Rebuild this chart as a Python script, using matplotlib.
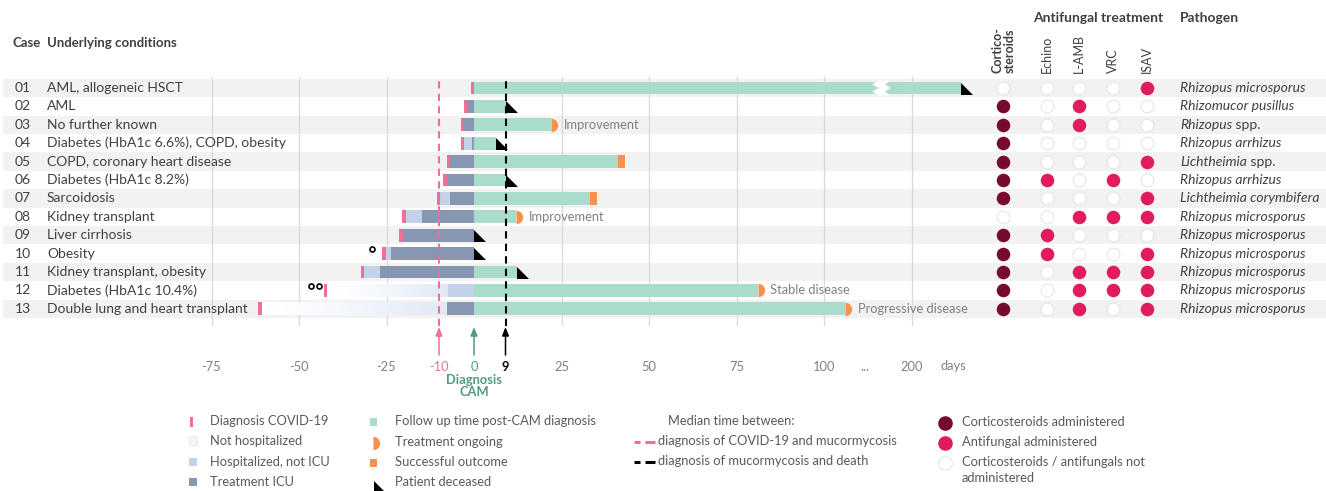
import numpy as np
import matplotlib
matplotlib.use("Agg")
import matplotlib.pyplot as plt
from matplotlib.transforms import blended_transform_factory, offset_copy
from matplotlib.path import Path
from matplotlib.patches import Rectangle, Polygon
from matplotlib.markers import MarkerStyle
from matplotlib.colors import to_rgb

plt.rcParams['font.family'] = ['Lato', 'DejaVu Sans']

# ---------------------------------------------------------------- data
cases = ['01', '02', '03', '04', '05', '06', '07', '08', '09', '10', '11', '12', '13']
conditions = ['AML, allogeneic HSCT', 'AML', 'No further known',
              'Diabetes (HbA1c 6.6%), COPD, obesity', 'COPD, coronary heart disease',
              'Diabetes (HbA1c 8.2%)', 'Sarcoidosis', 'Kidney transplant',
              'Liver cirrhosis', 'Obesity', 'Kidney transplant, obesity',
              'Diabetes (HbA1c 10.4%)', 'Double lung and heart transplant']
# days relative to CAM diagnosis (day 0)
covid_day = [-1.0, -2.9, -3.8, -3.8, -7.8, -8.8, -10.7, -20.5, -21.4, -26.2, -32.3, -43.0, -61.6]
not_hosp = [0, 0, 0, 0, 0, 0, 0, 0, 0, 0, 0, 1, 1]
ward_start = [np.nan, np.nan, np.nan, -2.8, np.nan, np.nan, -9.7, -19.5, np.nan, -25.2, -31.3, -7.3, np.nan]
icu_start = [np.nan, -1.9, -2.8, -0.7, -6.8, -7.8, -6.9, -14.8, -20.4, -23.8, -26.9, np.nan, -7.8]
followup_end = [214, 9, 22, 6.3, 41, 9, 33, 12, 0, 0, 12.2, 81, 106]
outcome = ['deceased', 'deceased', 'ongoing', 'deceased', 'success', 'deceased', 'success',
           'ongoing', 'deceased', 'deceased', 'deceased', 'ongoing', 'ongoing']
outcome_note = ['', '', 'Improvement', '', '', '', '', 'Improvement', '', '', '',
                'Stable disease', 'Progressive disease']
footnote_marks = [0, 0, 0, 0, 0, 0, 0, 0, 0, 1, 0, 2, 0]
median_covid_to_cam = -10
median_cam_to_death = 9

pathogen_genus = ['Rhizopus', 'Rhizomucor', 'Rhizopus', 'Rhizopus', 'Lichtheimia', 'Rhizopus',
                  'Lichtheimia', 'Rhizopus', 'Rhizopus', 'Rhizopus', 'Rhizopus', 'Rhizopus', 'Rhizopus']
pathogen_species = ['microsporus', 'pusillus', 'spp.', 'arrhizus', 'spp.', 'arrhizus', 'corymbifera',
                    'microsporus', 'microsporus', 'microsporus', 'microsporus', 'microsporus', 'microsporus']

treatment_names = ['Echino', 'L-AMB', 'VRC', 'ISAV']
corticosteroids = [0, 1, 1, 1, 1, 1, 1, 0, 1, 1, 1, 1, 1]
echino = [0, 0, 0, 0, 0, 1, 0, 0, 1, 1, 0, 0, 0]
l_amb = [0, 1, 1, 0, 0, 0, 0, 1, 0, 0, 1, 1, 1]
vrc = [0, 0, 0, 0, 0, 1, 0, 1, 0, 0, 1, 1, 0]
isav = [1, 0, 0, 0, 1, 0, 1, 1, 0, 1, 1, 1, 1]

grid_days = [-75, -50, -25, 25, 50, 75, 100, 200]
tick_days = [-75, -50, -25, -10, 0, 9, 25, 50, 75, 100, 150, 200]
tick_labels = ['-75', '-50', '-25', '-10', '0', '9', '25', '50', '75', '100', '...', '200']

# ---------------------------------------------------------------- style
PINK = '#f06f96'
GREEN = '#a9dccc'
ICU = '#8797b1'
WARD = '#c4d2e9'
HOME = '#dfe8f5'
ORANGE = '#f7914b'
CORT = '#760b2c'
AF = '#e01c5e'
EMPTY_EDGE = '#e2e2e2'
BAND = '#f2f2f2'
GRID = '#d9d9d9'
TXT = '#404040'
LTXT = '#595959'
TICK = '#808080'
CAMGREEN = '#4f9a82'

W, H = 1326, 491
fig = plt.figure(figsize=(W / 100, H / 100), dpi=100)
fig.patch.set_facecolor('white')


def fx(px):
    return px / W


def fy(py):
    return 1 - py / H


# broken time axis: the stretch between 111 and 187.5 days is squeezed
def fwd(d):
    d = np.asarray(d, float)
    return np.where(d <= 111, d, np.where(d >= 187.5, d - 75, 111 + (d - 111) * 1.5 / 76.5))


def inv(p):
    p = np.asarray(p, float)
    return np.where(p <= 111, p, np.where(p >= 112.5, p + 75, 111 + (p - 111) * 76.5 / 1.5))


ROW0, ROWH = 88, 18.4       # pixel centre of first row, row pitch
AX_TOP, AX_BOT = 77, 326
ZERO_PX, PX_PER_DAY = 474, 3.5

ax = fig.add_axes([fx(3), fy(AX_BOT), fx(W - 3), (AX_BOT - AX_TOP) / H])
ax.set_facecolor('none')
ax.set_xscale('function', functions=(fwd, inv))
ax.set_xlim((3 - ZERO_PX) / PX_PER_DAY, float(inv((W - ZERO_PX) / PX_PER_DAY)))
ax.set_ylim((AX_BOT - ROW0) / ROWH, (AX_TOP - ROW0) / ROWH)
for s in ax.spines.values():
    s.set_visible(False)

n = len(cases)
rows = np.arange(n)
BH = 0.70

for i in rows:
    if i % 2 == 0:
        ax.axhspan(i - 0.5, i + 0.5, color=BAND, lw=0, zorder=0)
for g in grid_days:
    ax.axvline(g, color=GRID, lw=0.9, zorder=0.5)

tri_path = Path([(0, 0.5), (0, -0.5), (0.95, -0.5), (0, 0.5)],
                [Path.MOVETO, Path.LINETO, Path.LINETO, Path.CLOSEPOLY])
foot_offsets = {1: [-10], 2: [-13, -5]}

for i in rows:
    c = covid_day[i]
    start = c + 1
    # phase boundaries before CAM diagnosis
    phases = []
    if not_hosp[i]:
        phases.append(('home', start))
    if not np.isnan(ward_start[i]):
        phases.append(('ward', ward_start[i]))
    if not np.isnan(icu_start[i]):
        phases.append(('icu', icu_start[i]))
    for k, (kind, s0) in enumerate(phases):
        s1 = phases[k + 1][1] if k + 1 < len(phases) else 0
        if kind == 'home':
            nseg = 40
            edges = np.linspace(s0, s1, nseg + 1)
            c0, c1 = np.array(to_rgb('#ffffff')), np.array(to_rgb(HOME))
            for j in range(nseg):
                t = (j + 0.5) / nseg
                ax.barh(i, edges[j + 1] - edges[j], left=edges[j], height=BH,
                        color=c0 + (c1 - c0) * t ** 1.3, lw=0, zorder=2)
        else:
            ax.barh(i, s1 - s0, left=s0, height=BH, color=WARD if kind == 'ward' else ICU,
                    lw=0, zorder=2)
    ax.barh(i, 1.0, left=c, height=BH, color=PINK, lw=0, zorder=3)
    for dx in foot_offsets.get(footnote_marks[i], []):
        ax.plot([c], [i], marker='o', ms=3.6, mfc='white', mec='black', mew=1.2, zorder=5,
                transform=offset_copy(ax.transData, fig=fig, x=dx, y=4.5, units='dots'))

    fe = followup_end[i]
    if fe > 0:
        ax.barh(i, fe, left=0, height=BH, color=GREEN, lw=0, zorder=2)
    if outcome[i] == 'success':
        ax.barh(i, 2, left=fe, height=BH, color=ORANGE, lw=0, zorder=3)
    elif outcome[i] == 'ongoing':
        ax.plot([fe], [i], marker=MarkerStyle('o', fillstyle='right'), ms=9.6,
                color=ORANGE, markerfacecoloralt='none', mew=0, zorder=4)
    else:
        ax.plot([fe], [i + 0.04], marker=tri_path, ms=17.5, color='black', mew=0, zorder=5)
    if outcome_note[i]:
        ax.annotate(outcome_note[i], xy=(fe, i), xytext=(9, 0), textcoords='offset points',
                    ha='left', va='center', fontsize=9.3, color=TICK)

# axis break on the long follow-up bar
yb = 0
zz = [0.35, 0.175, 0, -0.175, -0.35]
xl = [190.5, 188.8, 190.5, 188.8, 190.5]
left_edge = [(x, yb + y * 1.15) for x, y in zip(xl, zz)]
right_edge = [(x + 3.6, yb + y * 1.15) for x, y in zip(xl, zz)][::-1]
ax.add_patch(Polygon(left_edge + right_edge, closed=True, facecolor='white', edgecolor='none', zorder=4))

# median lines
ax.axvline(median_covid_to_cam, color=PINK, lw=1.5, ls=(0, (3.5, 2.5)), zorder=6)
ax.axvline(median_cam_to_death, color='black', lw=1.5, ls=(0, (3.5, 2.5)), zorder=6)


def py2row(py):
    return (py - ROW0) / ROWH


for xd, col in [(median_covid_to_cam, PINK), (0, CAMGREEN), (median_cam_to_death, 'black')]:
    ax.annotate('', xy=(xd, py2row(327)), xytext=(xd, py2row(355)),
                arrowprops=dict(arrowstyle='-|>,head_length=0.5,head_width=0.2', color=col, lw=1.1,
                                shrinkA=0, shrinkB=0),
                annotation_clip=False)

ax.set_xticks(tick_days)
ax.set_xticklabels(tick_labels)
ax.tick_params(axis='x', length=0, pad=25, labelsize=9.3, labelcolor=TICK)
ax.set_yticks([])
for lab, d in zip(ax.get_xticklabels(), tick_days):
    if d == median_covid_to_cam:
        lab.set_color(PINK)
    elif d == 0:
        lab.set_color(CAMGREEN)
    elif d == median_cam_to_death:
        lab.set_color('black')
        lab.set_fontweight('bold')
ax.text(0, py2row(374), 'Diagnosis\nCAM', ha='center', va='top', fontsize=9.3,
        fontweight='bold', color=CAMGREEN, linespacing=1.0, clip_on=False)
fig.text(fx(953), fy(366), 'days', ha='center', va='center', fontsize=9.3, color=TICK)

# row labels
tr = blended_transform_factory(fig.transFigure, ax.transData)
for i in rows:
    ax.text(fx(15), i, cases[i], transform=tr, ha='left', va='center', fontsize=10, color=TXT)
    ax.text(fx(47), i, conditions[i], transform=tr, ha='left', va='center', fontsize=10, color=TXT)
    if pathogen_species[i] == 'spp.':
        t1 = ax.text(fx(1180), i, pathogen_genus[i], transform=tr, ha='left', va='center',
                     fontsize=10, color=TXT, style='italic')
        ax.annotate(' spp.', xy=(1, 0), xycoords=t1, ha='left', va='bottom', fontsize=10, color=TXT)
    else:
        ax.text(fx(1180), i, pathogen_genus[i] + ' ' + pathogen_species[i], transform=tr,
                ha='left', va='center', fontsize=10, color=TXT, style='italic', clip_on=False)

fig.text(fx(12), fy(43), 'Case', fontsize=9.5, fontweight='bold', color=TXT, va='center')
fig.text(fx(47), fy(43), 'Underlying conditions', fontsize=9.5, fontweight='bold', color=TXT, va='center')
fig.text(fx(1033), fy(18), 'Antifungal treatment', fontsize=10, fontweight='bold', color=TXT, va='center')
fig.text(fx(1180), fy(18), 'Pathogen', fontsize=10, fontweight='bold', color=TXT, va='center')

# treatment dot matrix
col_x = [0, 1.28, 2.23, 3.24, 4.25]
dax = fig.add_axes([fx(985), fy(AX_BOT), fx(180), (AX_BOT - AX_TOP) / H])
dax.set_facecolor('none')
dax.set_xlim(-0.54, 4.77)
dax.set_ylim(ax.get_ylim())
dax.axis('off')
matrix = [corticosteroids, echino, l_amb, vrc, isav]
for k, vals in enumerate(matrix):
    vals = np.array(vals)
    filled = vals == 1
    fc = CORT if k == 0 else AF
    dax.scatter(np.full(filled.sum(), col_x[k]), rows[filled], s=95, color=fc, lw=0, zorder=3)
    dax.scatter(np.full((~filled).sum(), col_x[k]), rows[~filled], s=85, facecolor='white',
                edgecolor=EMPTY_EDGE, lw=0.7, zorder=3)
dax.text(col_x[0], py2row(73), 'Cortico-\nsteroids', rotation=90, ha='center', va='bottom',
         fontsize=9, fontweight='bold', color=TXT, linespacing=1.0, multialignment='left')
for k, name in enumerate(treatment_names):
    dax.text(col_x[k + 1], py2row(73), name, rotation=90, ha='center', va='bottom',
             fontsize=9, color=TXT)

# legend
lax = fig.add_axes([0, 0, 1, 1], zorder=-1)
lax.set_xlim(0, W)
lax.set_ylim(H, 0)
lax.axis('off')
LFS = 9.3


def ltext(x, y, s):
    lax.text(x, y, s, ha='left', va='center', fontsize=LFS, color=LTXT)


lax.add_patch(Rectangle((190, 417), 2.6, 10, color=PINK, lw=0))
ltext(210, 421, 'Diagnosis COVID-19')
lax.add_patch(Rectangle((188.5, 436), 8, 9, facecolor='#f1f4fa', edgecolor='#e6eaf2', lw=0.6))
ltext(210, 441, 'Not hospitalized')
lax.add_patch(Rectangle((188.5, 458), 8, 8, color=WARD, lw=0))
ltext(210, 462, 'Hospitalized, not ICU')
lax.add_patch(Rectangle((188.5, 478), 8, 8, color=ICU, lw=0))
ltext(210, 482, 'Treatment ICU')

lax.add_patch(Rectangle((370, 418), 7, 8, color=GREEN, lw=0))
ltext(395, 421, 'Follow up time post-CAM diagnosis')
lax.plot([373], [443], marker=MarkerStyle('o', fillstyle='right'), ms=9.5, color=ORANGE,
         markerfacecoloralt='none', mew=0)
ltext(395, 442, 'Treatment ongoing')
lax.add_patch(Rectangle((370, 459), 7, 8, color=ORANGE, lw=0))
ltext(395, 462, 'Successful outcome')
lax.plot([373.5], [486], marker=tri_path, ms=15, color='black', mew=0)
ltext(395, 482, 'Patient deceased')

ltext(668, 421, 'Median time between:')
for yy, col in [(441.5, PINK), (461.5, 'black')]:
    lax.plot([634, 640], [yy, yy], color=col, lw=2.2, solid_capstyle='butt')
    lax.plot([645, 655], [yy, yy], color=col, lw=2.2, solid_capstyle='butt')
ltext(658, 441, 'diagnosis of COVID-19 and mucormycosis')
ltext(658, 461, 'diagnosis of mucormycosis and death')

lax.scatter([945], [423], s=110, color=CORT, lw=0)
ltext(962, 422, 'Corticosteroids administered')
lax.scatter([945], [443], s=110, color=AF, lw=0)
ltext(962, 442, 'Antifungal administered')
lax.scatter([945], [463], s=100, facecolor='white', edgecolor=EMPTY_EDGE, lw=0.7)
lax.text(962, 470, 'Corticosteroids / antifungals not\nadministered', ha='left', va='center',
         fontsize=LFS, color=LTXT, linespacing=1.3)

fig.savefig('out.png', dpi=100, facecolor='white')
